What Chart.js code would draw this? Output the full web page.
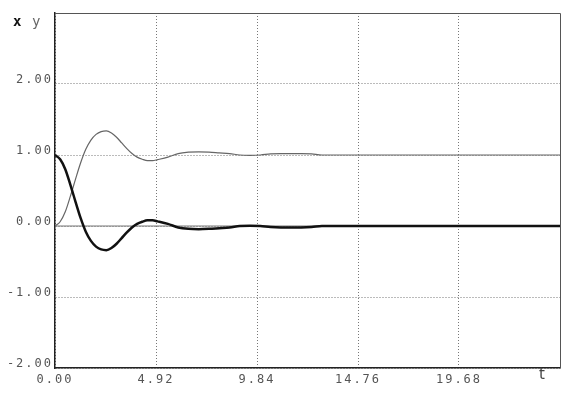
<!DOCTYPE html>
<html>
<head>
<meta charset="utf-8">
<script src="https://cdn.jsdelivr.net/npm/chart.js@4.4.1/dist/chart.umd.min.js"></script>
<style>
  html, body { margin: 0; padding: 0; background: #fff; }
  #wrap { width: 571px; height: 395px; position: relative; }
</style>
</head>
<body>
<div id="wrap"><canvas id="c"></canvas></div>
<script>
  // time samples and the two responses
  const times   = [0, 0.25, 0.5, 0.75, 1, 1.25, 1.5, 1.75, 2, 2.25, 2.5, 2.75, 3, 3.25, 3.5, 3.75, 4, 4.25, 4.5, 4.75,
                   5, 5.5, 6, 6.5, 7, 7.5, 8, 8.5, 9, 9.5, 10, 10.5, 11, 11.5, 12, 12.5, 13, 14, 16, 18, 20, 22, 24.6];
  const xSeries = [1, 0.94, 0.8, 0.58, 0.34, 0.11, -0.08, -0.21, -0.29, -0.33, -0.34, -0.31, -0.25, -0.17, -0.09, -0.02, 0.03, 0.06, 0.08, 0.08,
                   0.065, 0.03, -0.02, -0.04, -0.045, -0.04, -0.03, -0.02, 0, 0.005, 0, -0.015, -0.02, -0.02, -0.02, -0.015, 0, 0, 0, 0, 0, 0, 0];
  const ySeries = [0, 0.06, 0.2, 0.42, 0.66, 0.89, 1.08, 1.21, 1.29, 1.33, 1.34, 1.31, 1.25, 1.17, 1.09, 1.02, 0.97, 0.94, 0.92, 0.92,
                   0.935, 0.97, 1.02, 1.04, 1.045, 1.04, 1.03, 1.02, 1.0, 0.995, 1.0, 1.015, 1.02, 1.02, 1.02, 1.015, 1.0, 1.0, 1.0, 1.0, 1.0, 1.0, 1.0];

  const xTicks = [0, 4.92, 9.84, 14.76, 19.68];
  const xTickLabels = ['0.00', '4.92', '9.84', '14.76', '19.68'];
  const yTicks = [-2, -1, 0, 1, 2];
  const yTickLabels = ['-2.00', '-1.00', '0.00', '1.00', '2.00'];

  const tickFont = { family: '"DejaVu Sans Mono", monospace', size: 12 };

  const frame = {
    id: 'frame',
    beforeDraw(chart) {
      chart.ctx.letterSpacing = '2px';
    },
    beforeDatasetsDraw(chart) {
      const { ctx, chartArea: a, scales } = chart;
      ctx.save();
      // solid zero line
      const y0 = scales.y.getPixelForValue(0);
      ctx.strokeStyle = '#777';
      ctx.lineWidth = 1;
      ctx.beginPath();
      ctx.moveTo(a.left, y0);
      ctx.lineTo(a.right, y0);
      ctx.stroke();
      // top and right edges
      ctx.strokeStyle = '#555';
      ctx.beginPath();
      ctx.moveTo(a.left, a.top + 0.5);
      ctx.lineTo(a.right + 0.5, a.top + 0.5);
      ctx.lineTo(a.right + 0.5, a.bottom);
      ctx.stroke();
      ctx.restore();
    },
    afterDraw(chart) {
      const ctx = chart.ctx;
      ctx.save();
      ctx.letterSpacing = '0px';
      ctx.textBaseline = 'middle';
      ctx.fillStyle = '#111';
      ctx.font = 'bold 14px "DejaVu Sans Mono", monospace';
      ctx.fillText('x', 13, 22);
      ctx.fillStyle = '#666';
      ctx.font = '14px "DejaVu Sans Mono", monospace';
      ctx.fillText('y', 32, 22);
      ctx.fillStyle = '#444';
      ctx.font = '15px "DejaVu Sans", sans-serif';
      ctx.fillText('t', 539, 375);
      ctx.restore();
    }
  };

  new Chart(document.getElementById('c'), {
    type: 'line',
    data: {
      datasets: [
        {
          label: 'x',
          data: times.map((t, i) => ({ x: t, y: xSeries[i] })),
          borderColor: '#111',
          borderWidth: 2.5,
          pointRadius: 0,
          tension: 0.4,
          cubicInterpolationMode: 'monotone'
        },
        {
          label: 'y',
          data: times.map((t, i) => ({ x: t, y: ySeries[i] })),
          borderColor: '#666',
          borderWidth: 1.2,
          pointRadius: 0,
          tension: 0.4,
          cubicInterpolationMode: 'monotone'
        }
      ]
    },
    options: {
      responsive: true,
      maintainAspectRatio: false,
      animation: false,
      layout: { padding: { top: 13, right: 11, left: 0, bottom: 0 } },
      plugins: { legend: { display: false }, tooltip: { enabled: false } },
      scales: {
        x: {
          type: 'linear',
          min: 0,
          max: 24.6,
          afterBuildTicks: s => { s.ticks = xTicks.map(v => ({ value: v })); },
          afterFit: s => { s.height = 27; },
          ticks: {
            autoSkip: false,
            maxRotation: 0,
            padding: 5,
            color: '#555',
            font: tickFont,
            callback: (v, i) => xTickLabels[i]
          },
          grid: { color: '#777', lineWidth: 1, drawTicks: false },
          border: { display: true, color: '#222', width: 1.5, dash: [1, 2] }
        },
        y: {
          min: -2,
          max: 3,
          afterBuildTicks: s => { s.ticks = yTicks.map(v => ({ value: v })); },
          afterFit: s => { s.width = 55; },
          ticks: {
            autoSkip: false,
            padding: 2,
            labelOffset: -4,
            color: '#555',
            font: tickFont,
            callback: (v, i) => yTickLabels[i]
          },
          grid: { color: '#777', lineWidth: 1, drawTicks: false },
          border: { display: true, color: '#222', width: 1.5, dash: [1, 2] }
        }
      }
    },
    plugins: [frame]
  });
</script>
</body>
</html>
